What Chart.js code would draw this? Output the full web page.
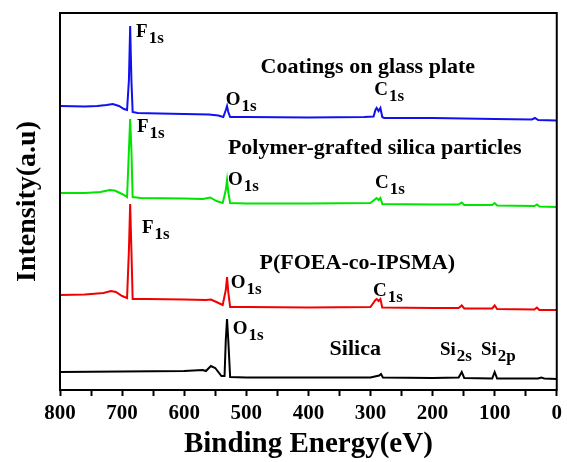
<!DOCTYPE html>
<html>
<head>
<meta charset="utf-8">
<script src="https://cdn.jsdelivr.net/npm/chart.js@4/dist/chart.umd.min.js"></script>
<style>
  html, body { margin: 0; padding: 0; background: #fff; }
  #wrap { width: 567px; height: 462px; }
</style>
</head>
<body>
<div id="wrap"><canvas id="xps"></canvas></div>
<script>
// XPS survey spectra, traces stacked with a vertical offset (arbitrary units)
const coatingEnergy = [800, 760, 740, 725, 715, 705, 697, 692, 689, 687, 685, 683, 675, 640, 600, 560, 545, 537, 533, 531, 529, 526, 500, 400, 310, 295, 292, 290, 287, 284, 281, 278, 200, 150, 100, 40, 35, 30, 0];
const coatingCounts = [284, 283.5, 284, 285, 286, 284, 281, 280, 310, 364, 310, 278, 277, 276.5, 276, 275.5, 274.5, 273, 280, 284, 278, 273, 273, 272.5, 273, 273.5, 280, 282, 279, 282, 273, 272, 272, 271.5, 271, 270.5, 272, 270, 269.5];

const graftedEnergy = [800, 760, 735, 720, 712, 700, 692, 689, 687, 685, 683, 670, 600, 570, 558, 548, 538, 533, 531, 529, 526, 500, 400, 300, 292, 290, 287, 284, 281, 200, 158, 153, 149, 104, 100, 96, 36, 32, 28, 0];
const graftedCounts = [197, 197, 198, 200, 199.5, 196, 193, 240, 271, 240, 193, 192, 191.5, 191, 192.5, 189, 187, 200, 210, 198, 187, 186.5, 186.5, 187, 191, 192, 190, 192, 186, 185.5, 185.5, 187.5, 185, 185, 187, 184.5, 184, 185.5, 183.5, 183];

const polymerEnergy = [800, 760, 730, 718, 710, 700, 692, 689, 687, 685, 683, 660, 600, 565, 557, 548, 538, 533, 531, 529, 526, 500, 400, 300, 292, 290, 287, 284, 281, 200, 158, 153, 149, 104, 100, 96, 36, 32, 28, 0];
const polymerCounts = [95, 95.5, 97, 99, 98, 94, 92, 140, 186, 140, 91, 91, 90.5, 90, 90.5, 88, 85, 100, 113, 98, 83, 83, 82.5, 83, 90, 91, 89, 91, 82.5, 82, 82, 84.5, 81.5, 81.5, 84.5, 81, 80.5, 82.5, 80, 80];

const silicaEnergy = [800, 700, 600, 570, 565, 557, 550, 540, 535, 533, 531, 529, 526, 500, 400, 300, 286, 283, 280, 200, 158, 153, 149, 104, 100, 96, 30, 25, 20, 0];
const silicaCounts = [18, 18.5, 19, 20, 19, 24, 22, 14, 14, 50, 71, 50, 13, 12.5, 12.5, 12.5, 14.5, 16, 12.5, 12, 12.5, 18, 12, 11.5, 18, 11.5, 11.5, 12.5, 11.5, 11];

const xTicks = [800, 700, 600, 500, 400, 300, 200, 100, 0];

function pairs(xs, ys) {
  return xs.map((x, i) => ({ x: x, y: ys[i] }));
}

// peak labels: main text + subscript, anchored at (eV, counts) of the text baseline
const peakLabels = [
  { text: "F", sub: "1s", x: 677.5, y: 353 },
  { text: "O", sub: "1s", x: 533, y: 285 },
  { text: "C", sub: "1s", x: 294, y: 295 },
  { text: "F", sub: "1s", x: 676, y: 258 },
  { text: "O", sub: "1s", x: 529.6, y: 205 },
  { text: "C", sub: "1s", x: 292.6, y: 202 },
  { text: "F", sub: "1s", x: 668, y: 157 },
  { text: "O", sub: "1s", x: 525, y: 102 },
  { text: "C", sub: "1s", x: 296, y: 94 },
  { text: "O", sub: "1s", x: 521.7, y: 56 },
  { text: "Si", sub: "2s", x: 188, y: 35 },
  { text: "Si", sub: "2p", x: 122, y: 35 }
];
const sampleLabels = [
  { text: "Coatings on glass plate", x: 477, y: 317 },
  { text: "Polymer-grafted silica particles", x: 529.6, y: 236 },
  { text: "P(FOEA-co-IPSMA)", x: 478.7, y: 121 },
  { text: "Silica", x: 365.8, y: 35 }
];

const SERIF = '"Liberation Serif", "Times New Roman", serif';

const labelPlugin = {
  id: "peakText",
  afterDatasetsDraw(chart) {
    const { ctx, scales: { x, y } } = chart;
    ctx.save();
    ctx.fillStyle = "#000";
    ctx.textBaseline = "alphabetic";
    ctx.textAlign = "left";
    peakLabels.forEach(l => {
      const px = x.getPixelForValue(l.x), py = y.getPixelForValue(l.y);
      ctx.font = "bold 19px " + SERIF;
      ctx.fillText(l.text, px, py);
      const w = ctx.measureText(l.text).width;
      ctx.font = "bold 17px " + SERIF;
      ctx.fillText(l.sub, px + w + 1, py + 6);
    });
    ctx.font = "bold 22px " + SERIF;
    sampleLabels.forEach(l => {
      ctx.fillText(l.text, x.getPixelForValue(l.x), y.getPixelForValue(l.y));
    });
    ctx.restore();
  }
};

// black frame around the plot area
const framePlugin = {
  id: "frame",
  afterDraw(chart) {
    const { ctx, chartArea: a } = chart;
    ctx.save();
    ctx.strokeStyle = "#000";
    ctx.lineWidth = 2;
    ctx.strokeRect(a.left, a.top, a.right - a.left, a.bottom - a.top);
    ctx.restore();
  }
};

const line = (data, color) => ({
  data: data,
  borderColor: color,
  borderWidth: 2,
  pointRadius: 0,
  tension: 0,
  fill: false
});

new Chart(document.getElementById("xps"), {
  type: "line",
  data: {
    datasets: [
      line(pairs(coatingEnergy, coatingCounts), "#1010f0"),
      line(pairs(graftedEnergy, graftedCounts), "#00e400"),
      line(pairs(polymerEnergy, polymerCounts), "#f00000"),
      line(pairs(silicaEnergy, silicaCounts), "#000000")
    ]
  },
  options: {
    responsive: true,
    maintainAspectRatio: false,
    animation: false,
    layout: { padding: { left: 0, right: 4, top: 13, bottom: 0 } },
    plugins: { legend: { display: false }, tooltip: { enabled: false } },
    scales: {
      x: {
        type: "linear",
        reverse: true,
        min: 0,
        max: 800,
        afterFit(s) { s.height = 72; },
        border: { display: true, color: "#000", width: 2 },
        grid: { drawOnChartArea: false, drawTicks: true, tickLength: 6, tickWidth: 2, tickColor: "#000" },
        ticks: {
          stepSize: 50,
          autoSkip: false,
          maxRotation: 0,
          padding: 5,
          color: "#000",
          font: { family: SERIF, size: 21, weight: "bold" },
          callback: v => (xTicks.includes(v) ? v : "")
        },
        title: {
          display: true,
          text: "Binding Energy(eV)",
          color: "#000",
          padding: 0,
          font: { family: SERIF, size: 29, weight: "bold" }
        }
      },
      y: {
        min: 0,
        max: 377,
        afterFit(s) { s.width = 60; },
        border: { display: false },
        grid: { display: false },
        ticks: { display: false },
        title: {
          display: true,
          text: "Intensity(a.u)",
          color: "#000",
          padding: { top: 11, bottom: 0 },
          font: { family: SERIF, size: 28, weight: "bold" }
        }
      }
    }
  },
  plugins: [labelPlugin, framePlugin]
});
</script>
</body>
</html>
